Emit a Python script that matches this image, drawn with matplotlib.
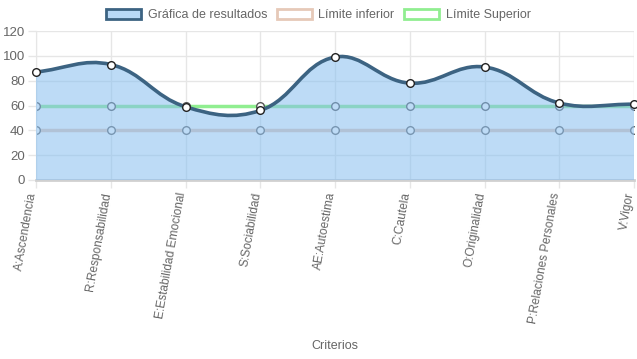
import numpy as np
import matplotlib
matplotlib.use("Agg")
import matplotlib.pyplot as plt
import matplotlib.transforms as mtransforms
from matplotlib.path import Path
from matplotlib.patches import PathPatch, Patch

plt.rcParams['font.family'] = ['Liberation Sans', 'DejaVu Sans']

categorias = ['A:Ascendencia', 'R:Responsabilidad', 'E:Estabilidad Emocional',
              'S:Sociabilidad', 'AE:Autoestima', 'C:Cautela', 'O:Originalidad',
              'P:Relaciones Personales', 'V:Vigor']
resultados = [87, 93, 59, 56, 99, 78, 91, 62, 61]
limite_inferior = [40, 40, 40, 40, 40, 40, 40, 40, 40]
limite_superior = [60, 60, 60, 60, 60, 60, 60, 60, 60]

col_res = '#3c6382'
col_fill = (135/255, 190/255, 240/255, 0.55)
col_inf = '#e6c9b8'
col_sup = '#90ee90'
txt = '#666666'
grid = '#e6e6e6'

W, H = 637, 359
fig = plt.figure(figsize=(W/100, H/100), dpi=100)
L, R, T, B = 36, 634, 31, 180
ax = fig.add_axes([L/W, 1-B/H, (R-L)/W, (B-T)/H])
ax.set_xlim(0, len(categorias)-1)
ax.set_ylim(0, 120)

x = np.arange(len(categorias))


def spline_path(xs, ys, tension=0.4):
    # chart.js style bezier, distances measured in pixels
    sx = (R-L)/(len(xs)-1)
    sy = (B-T)/120.0
    pts = np.column_stack([np.asarray(xs, float), np.asarray(ys, float)])
    n = len(pts)
    cp_prev = pts.copy()
    cp_next = pts.copy()
    for i in range(n):
        p0 = pts[max(i-1, 0)]
        p1 = pts[i]
        p2 = pts[min(i+1, n-1)]
        d01 = np.hypot((p1[0]-p0[0])*sx, (p1[1]-p0[1])*sy)
        d12 = np.hypot((p2[0]-p1[0])*sx, (p2[1]-p1[1])*sy)
        tot = d01 + d12
        s01 = d01/tot if tot else 0
        s12 = d12/tot if tot else 0
        cp_prev[i] = p1 - tension*s01*(p2-p0)
        cp_next[i] = p1 + tension*s12*(p2-p0)
    verts = [pts[0]]
    codes = [Path.MOVETO]
    for i in range(n-1):
        verts += [cp_next[i], cp_prev[i+1], pts[i+1]]
        codes += [Path.CURVE4]*3
    return verts, codes


# grid
ax.grid(True, color=grid, linewidth=1)
ax.set_axisbelow(True)
for s in ['top', 'right']:
    ax.spines[s].set_visible(False)
ax.spines['left'].set_color(grid)
ax.spines['bottom'].set_color('#d0d0d0')
ax.spines['bottom'].set_linewidth(2)
ax.set_yticks(np.arange(0, 121, 20))
ax.set_xticks(x)
ax.set_xticklabels(categorias, rotation=80, ha='right', va='center',
                   rotation_mode='anchor', fontsize=8.6, color=txt)
ax.tick_params(axis='both', length=6, color=grid, width=1)
ax.tick_params(axis='y', labelsize=9.5, labelcolor=txt, pad=2)
ax.tick_params(axis='x', pad=3)
# nudge the x labels a little to the left, like the original
shift = mtransforms.ScaledTranslation(-3/100, 0, fig.dpi_scale_trans)
for lab in ax.get_xticklabels():
    lab.set_transform(lab.get_transform() + shift)

# limit lines (under the fill)
ax.plot(x, limite_inferior, color=col_inf, lw=2.5, zorder=2,
        marker='o', ms=5.5, mfc='white', mec='#666666', mew=1)
ax.plot(x, limite_superior, color=col_sup, lw=2.5, zorder=2,
        marker='o', ms=5.5, mfc='white', mec='#555555', mew=1)

# result curve with fill
verts, codes = spline_path(x, resultados)
fv = verts + [(x[-1], 0), (x[0], 0), verts[0]]
fc = codes + [Path.LINETO, Path.LINETO, Path.CLOSEPOLY]
ax.add_patch(PathPatch(Path(fv, fc), facecolor=col_fill, edgecolor='none', zorder=3))
ax.add_patch(PathPatch(Path(verts, codes), facecolor='none', edgecolor=col_res,
                       lw=2.6, zorder=4))
ax.plot(x, resultados, 'o', ms=5.5, mfc='white', mec='#222222', mew=1, zorder=5,
        clip_on=False)

# legend
handles = [Patch(facecolor=(0.72, 0.85, 0.97), edgecolor=col_res, lw=2),
           Patch(facecolor='white', edgecolor=col_inf, lw=2),
           Patch(facecolor='white', edgecolor=col_sup, lw=2)]
fig.legend(handles, ['Gráfica de resultados', 'Límite inferior', 'Límite Superior'],
           loc='center', bbox_to_anchor=(0.5, 1-15/H), ncol=3, frameon=False,
           handlelength=2.8, handleheight=0.9, handletextpad=0.5,
           columnspacing=0.8, fontsize=9, labelcolor=txt)

fig.text((L+R)/2/W, 1-346/H, 'Criterios', ha='center', va='center',
         fontsize=9, color=txt)

fig.savefig('out.png', dpi=100)
